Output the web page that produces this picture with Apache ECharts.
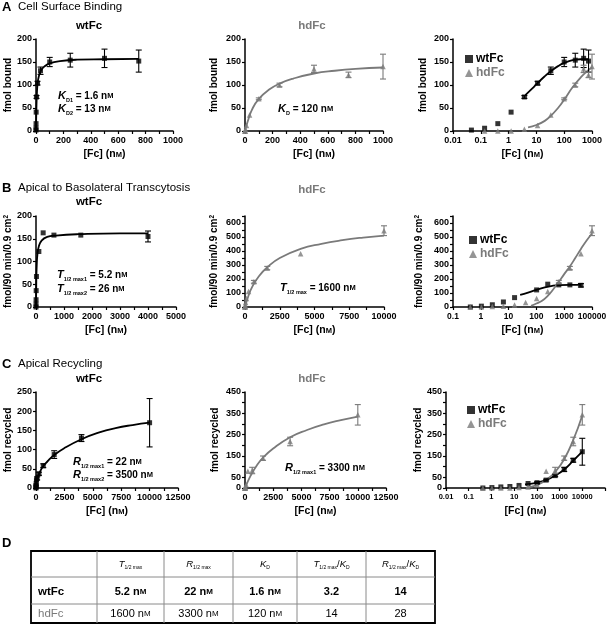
<!DOCTYPE html>
<html><head><meta charset="utf-8">
<script src="https://cdn.jsdelivr.net/npm/echarts/dist/echarts.min.js"></script>
<style>html,body{margin:0;padding:0;background:#fff}#c{width:610px;height:625px}</style>
</head><body><div id="c"></div>
<script>
const FONT = '"Liberation Sans", Arial, Helvetica, sans-serif';
const BLACK = '#000000', GRAY = '#7a7a7a';

// ---------- A: Cell Surface Binding (conc nM, fmol bound, +/- error) ----------
const aWtConc  = [0.046, 0.137, 0.41, 1.23, 3.7, 11, 33, 100, 250, 500, 750];
const aWtBound = [2, 6, 16, 41, 74, 104, 131, 150, 154, 158, 152];
const aWtErr   = [0, 0, 0, 0, 3, 4, 8, 10, 15, 20, 24];
const aHdConc  = [0.137, 0.41, 1.23, 3.7, 11, 33, 100, 250, 500, 750, 1000];
const aHdBound = [0, 0, 0, 4, 12, 35, 70, 100, 135, 122, 140];
const aHdErr   = [0, 0, 0, 0, 0, 0, 2, 4, 8, 6, 27];
const aWtFitLin = [[0,0],[3,50],[7,85],[12,104],[20,118],[35,131],[60,140],[100,147],[175,152],[300,155],[500,156],[750,157]];
const aHdFitLin = [[0,0],[20,21],[50,46],[100,70],[175,90],[250,103],[350,114],[500,125],[650,131],[800,135],[1000,138]];
const aWtFitLog = [[4,78],[7,92],[11,104],[20,119],[33,130],[60,141],[100,148],[200,154],[400,156],[750,156]];
const aHdFitLog = [[5,8],[10,13],[20,22],[33,33],[60,50],[100,68],[200,95],[400,117],[700,131],[1000,138]];

// ---------- B: Apical to Basolateral Transcytosis ----------
const bWtConc = [0.42, 1.05, 2.6, 6.5, 16.4, 102, 256, 640, 1600, 4000];
const bWtVal  = [0, 6, 16, 36, 67, 122, 163, 158, 158, 155];
const bWtErr  = [0, 0, 0, 0, 0, 0, 0, 0, 0, 12];
const bHdConc = [0.42, 1.05, 2.6, 6.5, 16.4, 41, 102, 256, 640, 1600, 4000, 10000];
const bHdVal  = [0, 0, 3, 6, 14, 32, 60, 110, 180, 278, 380, 545];
const bHdErr  = [0, 0, 0, 0, 0, 0, 0, 0, 10, 12, 0, 35];
const bWtFitLin = [[0,0],[10,55],[25,90],[50,115],[100,133],[200,146],[400,154],[700,157],[1500,160],[3000,162],[4000,162]];
const bHdFitLin = [[0,0],[250,80],[500,140],[1000,220],[1600,283],[2500,350],[4000,415],[5500,451],[7000,477],[8500,496],[10000,510]];
const bWtFitLog = [[26,87],[50,103],[100,122],[200,140],[400,152],[640,156],[1600,158],[4000,158]];
const bHdFitLog = [[64,8],[100,25],[160,45],[256,80],[400,125],[640,180],[1000,235],[1600,290],[2500,350],[4000,415],[6400,475],[10000,525]];

// ---------- C: Apical Recycling ----------
const cConc  = [0.42, 1.05, 2.6, 6.5, 16.4, 41, 102, 256, 640, 1600, 4000, 10000];
const cWtVal = [0, 2, 5, 7, 12, 21, 25, 37, 58, 87, 130, 170];
const cWtErr = [0, 0, 0, 0, 0, 0, 4, 4, 5, 10, 9, 63];
const cHdVal = [0, 0, 0, 0, 2, 5, 15, 78, 82, 140, 218, 343];
const cHdErr = [0, 0, 0, 0, 0, 0, 0, 0, 15, 10, 20, 48];
const cWtFitLin = [[0,0],[50,15],[150,27],[300,39],[640,57],[1000,69],[1600,86],[2500,104],[4000,127],[5500,144],[7000,156],[8500,164],[10000,170]];
const cHdFitLin = [[0,0],[500,58],[1000,102],[1600,142],[2500,185],[4000,238],[5500,272],[7000,298],[8500,318],[10000,335]];
const cWtFitLog = [[30,17],[60,21],[100,25],[256,37],[640,58],[1600,87],[4000,128],[10000,170]];
const cHdFitLog = [[35,3],[60,7],[100,14],[256,38],[640,75],[1600,135],[4000,225],[10000,340]];

// ---------- tick labels ----------
const aLogTicks = ['0.01', '0.1', '1', '10', '100', '1000'];
const bLogTicks = ['0.1', '1', '10', '100', '1000', '100000'];
const cLogTicks = ['0.01', '0.1', '1', '10', '100', '1000', '10000', ''];

// ---------- D: table ----------
const tableHeads = ['{i|T}{s|1/2 max}', '{i|R}{s|1/2 max}', '{i|K}{s|D}', '{i|T}{s|1/2 max}{h|/}{i|K}{s|D}', '{i|R}{s|1/2 max}{h|/}{i|K}{s|D}'];
const tableRowNames = ['wtFc', 'hdFc'];
const tableWt = ['5.2 nM', '22 nM', '1.6 nM', '3.2', '14'];
const tableHd = ['1600 nM', '3300 nM', '120 nM', '14', '28'];

// ================= build =================
const grids = [
  [36, 39, 137, 92], [245, 39, 138, 92], [453, 39, 139, 92],
  [36, 216, 140, 91], [245, 216, 139, 91], [453, 216, 139, 91],
  [36, 392, 142, 96], [245, 392, 141, 96], [446, 392, 159, 96]
];
const grid = grids.map(g => ({left: g[0], top: g[1], width: g[2], height: g[3], outerBoundsMode: 'none', containLabel: false}));

const tickLbl = {fontFamily: FONT, fontWeight: 'bold', fontSize: 9, color: BLACK};
const axLine = {show: true, onZero: false, lineStyle: {color: BLACK, width: 1.5}};
const axTick = {show: true, length: 3, inside: false, lineStyle: {color: BLACK, width: 1.2}};
const smallM = {m: {fontFamily: FONT, fontWeight: 'bold', fontSize: 7.5, color: BLACK}};

function xName() {
  return {name: '[Fc] (n{m|M})', nameLocation: 'middle', nameGap: 18,
    nameTextStyle: {fontFamily: FONT, fontWeight: 'bold', fontSize: 10.5, color: BLACK, rich: smallM}};
}
function linX(gi, max, step, every) {
  return Object.assign({type: 'value', gridIndex: gi, min: 0, max: max, interval: step,
    axisLine: axLine, axisTick: axTick, splitLine: {show: false},
    axisLabel: Object.assign({margin: 5, interval: 0, showMaxLabel: true, formatter: v => (Math.round(v) % every === 0 ? String(v) : '')}, tickLbl)}, xName());
}
function logX(gi, min, max, labels, fs) {
  return Object.assign({type: 'log', logBase: 10, gridIndex: gi, min: min, max: max, splitNumber: labels.length - 1,
    axisLine: axLine, axisTick: axTick, splitLine: {show: false}, minorTick: {show: false},
    axisLabel: Object.assign({margin: 5, interval: 0, hideOverlap: false, formatter: v => {
      const k = Math.round(Math.log10(v) - Math.log10(min));
      return labels[k] !== undefined ? labels[k] : '';
    }}, tickLbl, {fontSize: fs})}, xName());
}
function linY(gi, max, step, show, name, gap) {
  return {type: 'value', gridIndex: gi, min: 0, max: max, interval: step,
    axisLine: axLine, axisTick: axTick, splitLine: {show: false},
    axisLabel: Object.assign({margin: 4, interval: 0, formatter: v => (show(v) ? String(v) : '')}, tickLbl),
    name: name, nameLocation: 'middle', nameGap: gap,
    nameTextStyle: {fontFamily: FONT, fontWeight: 'bold', fontSize: 10, color: BLACK,
      rich: {sup: {fontFamily: FONT, fontWeight: 'bold', fontSize: 6.5, color: BLACK, verticalAlign: 'top'}}}};
}
const every = n => v => Math.round(v) % n === 0;
const oddHalf = v => v === 0 || Math.round(v) % 100 === 50;
const cm2 = 'fmol/90 min/0.9 cm{sup|2}';

const xAxis = [
  linX(0, 1000, 100, 200), linX(1, 1000, 100, 200), logX(2, 0.01, 1000, aLogTicks, 9),
  linX(3, 5000, 500, 1000), linX(4, 10000, 1250, 2500), logX(5, 0.1, 10000, bLogTicks, 8.5),
  linX(6, 12500, 1250, 2500), linX(7, 12500, 1250, 2500), logX(8, 0.01, 100000, cLogTicks, 7.5)
];
const yAxis = [
  linY(0, 200, 50, every(50), 'fmol bound', 21),
  linY(1, 200, 50, every(50), 'fmol bound', 26),
  linY(2, 200, 50, every(50), 'fmol bound', 25),
  linY(3, 200, 50, every(50), cm2, 22),
  linY(4, 650, 50, every(100), cm2, 26),
  linY(5, 650, 50, every(100), cm2, 29),
  linY(6, 250, 50, every(50), 'fmol recycled', 21),
  linY(7, 450, 50, oddHalf, 'fmol recycled', 25),
  linY(8, 450, 50, oddHalf, 'fmol recycled', 19)
];

const pts = (xs, ys) => xs.map((x, i) => [x, ys[i]]);
const errs = (xs, ys, es) => xs.map((x, i) => [x, ys[i] - es[i], ys[i] + es[i]]).filter((d, i) => es[i] > 0);

function errRender(color) {
  return function (params, api) {
    const x = api.value(0);
    const p1 = api.coord([x, api.value(1)]);
    const p2 = api.coord([x, api.value(2)]);
    const w = 3;
    const st = {stroke: color, lineWidth: 1.1};
    return {type: 'group', children: [
      {type: 'line', shape: {x1: p1[0], y1: p1[1], x2: p2[0], y2: p2[1]}, style: st},
      {type: 'line', shape: {x1: p1[0] - w, y1: p1[1], x2: p1[0] + w, y2: p1[1]}, style: st},
      {type: 'line', shape: {x1: p2[0] - w, y1: p2[1], x2: p2[0] + w, y2: p2[1]}, style: st}
    ]};
  };
}

const series = [];
function addSet(gi, kind, xs, ys, es, fit) {
  const color = kind === 'wt' ? BLACK : GRAY;
  series.push({type: 'line', name: kind + 'fit' + gi, xAxisIndex: gi, yAxisIndex: gi, data: fit,
    smooth: 0.5, showSymbol: false, symbol: 'none', silent: true,
    lineStyle: {color: color, width: 1.8}, z: 2});
  series.push({type: 'scatter', name: kind === 'wt' ? 'wtFc' : 'hdFc', xAxisIndex: gi, yAxisIndex: gi,
    data: pts(xs, ys), symbol: kind === 'wt' ? 'rect' : 'triangle', symbolSize: kind === 'wt' ? 5 : 5.5,
    itemStyle: {color: color}, z: 3});
  series.push({type: 'custom', name: kind + 'err' + gi, xAxisIndex: gi, yAxisIndex: gi,
    data: errs(xs, ys, es), renderItem: errRender(color), silent: true, z: 4});
}
addSet(0, 'wt', aWtConc, aWtBound, aWtErr, aWtFitLin);
addSet(1, 'hd', aHdConc, aHdBound, aHdErr, aHdFitLin);
addSet(2, 'wt', aWtConc, aWtBound, aWtErr, aWtFitLog);
addSet(2, 'hd', aHdConc, aHdBound, aHdErr, aHdFitLog);
addSet(3, 'wt', bWtConc, bWtVal, bWtErr, bWtFitLin);
addSet(4, 'hd', bHdConc, bHdVal, bHdErr, bHdFitLin);
addSet(5, 'wt', bWtConc, bWtVal, bWtErr, bWtFitLog);
addSet(5, 'hd', bHdConc, bHdVal, bHdErr, bHdFitLog);
addSet(6, 'wt', cConc, cWtVal, cWtErr, cWtFitLin);
addSet(7, 'hd', cConc, cHdVal, cHdErr, cHdFitLin);
addSet(8, 'wt', cConc, cWtVal, cWtErr, cWtFitLog);
addSet(8, 'hd', cConc, cHdVal, cHdErr, cHdFitLog);

function legendAt(left, top) {
  return {left: left, top: top, orient: 'vertical', itemGap: 2, itemWidth: 8, itemHeight: 8, selectedMode: false,
    textStyle: {fontFamily: FONT, fontWeight: 'bold', fontSize: 12, padding: [0, 0, 0, -2]},
    data: [{name: 'wtFc', textStyle: {color: BLACK}}, {name: 'hdFc', textStyle: {color: GRAY}}]};
}

// ---------- graphic text ----------
const g = [];
function txt(x, y, text, style) {
  g.push({type: 'text', x: x, y: y, z: 100, silent: true,
    style: Object.assign({text: text, fill: BLACK, font: 'bold 11px ' + FONT, align: 'left', verticalAlign: 'middle'}, style || {})});
}
function heading(y, letter, title) {
  txt(2, y, letter, {font: 'bold 13px ' + FONT});
  if (title) txt(18, y, title, {font: '11.5px ' + FONT});
}
heading(7, 'A', 'Cell Surface Binding');
heading(188, 'B', 'Apical to Basolateral Transcytosis');
heading(364, 'C', 'Apical Recycling');
heading(543, 'D', '');

const titleFont = 'bold 11.5px ' + FONT;
txt(89, 26, 'wtFc', {align: 'center', font: titleFont});
txt(312, 26, 'hdFc', {align: 'center', font: titleFont, fill: GRAY});
txt(89, 202, 'wtFc', {align: 'center', font: titleFont});
txt(312, 190, 'hdFc', {align: 'center', font: titleFont, fill: GRAY});
txt(89, 379, 'wtFc', {align: 'center', font: titleFont});
txt(312, 379, 'hdFc', {align: 'center', font: titleFont, fill: GRAY});

const richAnn = {
  i: {fontFamily: FONT, fontWeight: 'bold', fontStyle: 'italic', fontSize: 11, lineHeight: 14, verticalAlign: 'middle', color: BLACK},
  s: {fontFamily: FONT, fontWeight: 'bold', fontSize: 5.5, lineHeight: 6, verticalAlign: 'bottom', color: BLACK},
  t: {fontFamily: FONT, fontWeight: 'bold', fontSize: 10, lineHeight: 14, verticalAlign: 'middle', color: BLACK},
  m: {fontFamily: FONT, fontWeight: 'bold', fontSize: 7.5, lineHeight: 14, verticalAlign: 'middle', color: BLACK}
};
function ann(x, y, sym, sub, val) {
  txt(x, y, '{i|' + sym + '}{s|' + sub + '}{t| = ' + val + ' n}{m|M}', {rich: richAnn});
}
ann(58, 96, 'K', 'D1', '1.6');
ann(58, 109, 'K', 'D2', '13');
ann(278, 109, 'K', 'D', '120');
ann(57, 275, 'T', '1/2 max1', '5.2');
ann(57, 289, 'T', '1/2 max2', '26');
ann(280, 288, 'T', '1/2 max', '1600');
ann(73, 462, 'R', '1/2 max1', '22');
ann(73, 475, 'R', '1/2 max2', '3500');
ann(285, 468, 'R', '1/2 max1', '3300');

// ---------- table ----------
const tL = 31, tR = 435, tT = 551, tH1 = 577, tH2 = 604, tB = 623;
const colX = [97, 164, 233, 297, 366];
const bounds = [tL].concat(colX, [tR]);
g.push({type: 'rect', shape: {x: tL, y: tT, width: tR - tL, height: tB - tT}, style: {fill: 'none', stroke: BLACK, lineWidth: 1.8}, z: 100, silent: true});
colX.forEach(x => g.push({type: 'line', shape: {x1: x, y1: tT, x2: x, y2: tB}, style: {stroke: '#8a8a8a', lineWidth: 1}, z: 100, silent: true}));
[tH1, tH2].forEach(y => g.push({type: 'line', shape: {x1: tL, y1: y, x2: tR, y2: y}, style: {stroke: '#8a8a8a', lineWidth: 1}, z: 100, silent: true}));
const richHead = {
  i: {fontFamily: FONT, fontStyle: 'italic', fontSize: 9.5, lineHeight: 12, verticalAlign: 'middle', color: BLACK},
  h: {fontFamily: FONT, fontSize: 9.5, lineHeight: 12, verticalAlign: 'middle', color: BLACK},
  s: {fontFamily: FONT, fontSize: 5, lineHeight: 5, verticalAlign: 'bottom', color: BLACK}
};
function cellRich(color, weight) {
  return {
    t: {fontFamily: FONT, fontWeight: weight, fontSize: 11, color: color},
    m: {fontFamily: FONT, fontWeight: weight, fontSize: 8, color: color}
  };
}
const fmtNM = s => s.endsWith(' nM') ? '{t|' + s.slice(0, -1) + '}{m|M}' : '{t|' + s + '}';
tableHeads.forEach((h, k) => txt((bounds[k + 1] + bounds[k + 2]) / 2, (tT + tH1) / 2, h, {align: 'center', rich: richHead}));
txt(38, (tH1 + tH2) / 2 + 1, tableRowNames[0], {font: 'bold 11.5px ' + FONT});
txt(38, (tH2 + tB) / 2, tableRowNames[1], {font: '11.5px ' + FONT, fill: GRAY});
tableWt.forEach((v, k) => txt((bounds[k + 1] + bounds[k + 2]) / 2, (tH1 + tH2) / 2 + 1, fmtNM(v), {align: 'center', rich: cellRich(BLACK, 'bold')}));
tableHd.forEach((v, k) => txt((bounds[k + 1] + bounds[k + 2]) / 2, (tH2 + tB) / 2, fmtNM(v), {align: 'center', rich: cellRich(GRAY, 'normal')}));

const chart = echarts.init(document.getElementById('c'), null, {renderer: 'canvas'});
chart.setOption({
  animation: false,
  backgroundColor: '#ffffff',
  textStyle: {fontFamily: FONT},
  grid: grid,
  xAxis: xAxis,
  yAxis: yAxis,
  legend: [legendAt(460, 48), legendAt(464, 229), legendAt(462, 399)],
  series: series,
  graphic: g
});
</script></body></html>
